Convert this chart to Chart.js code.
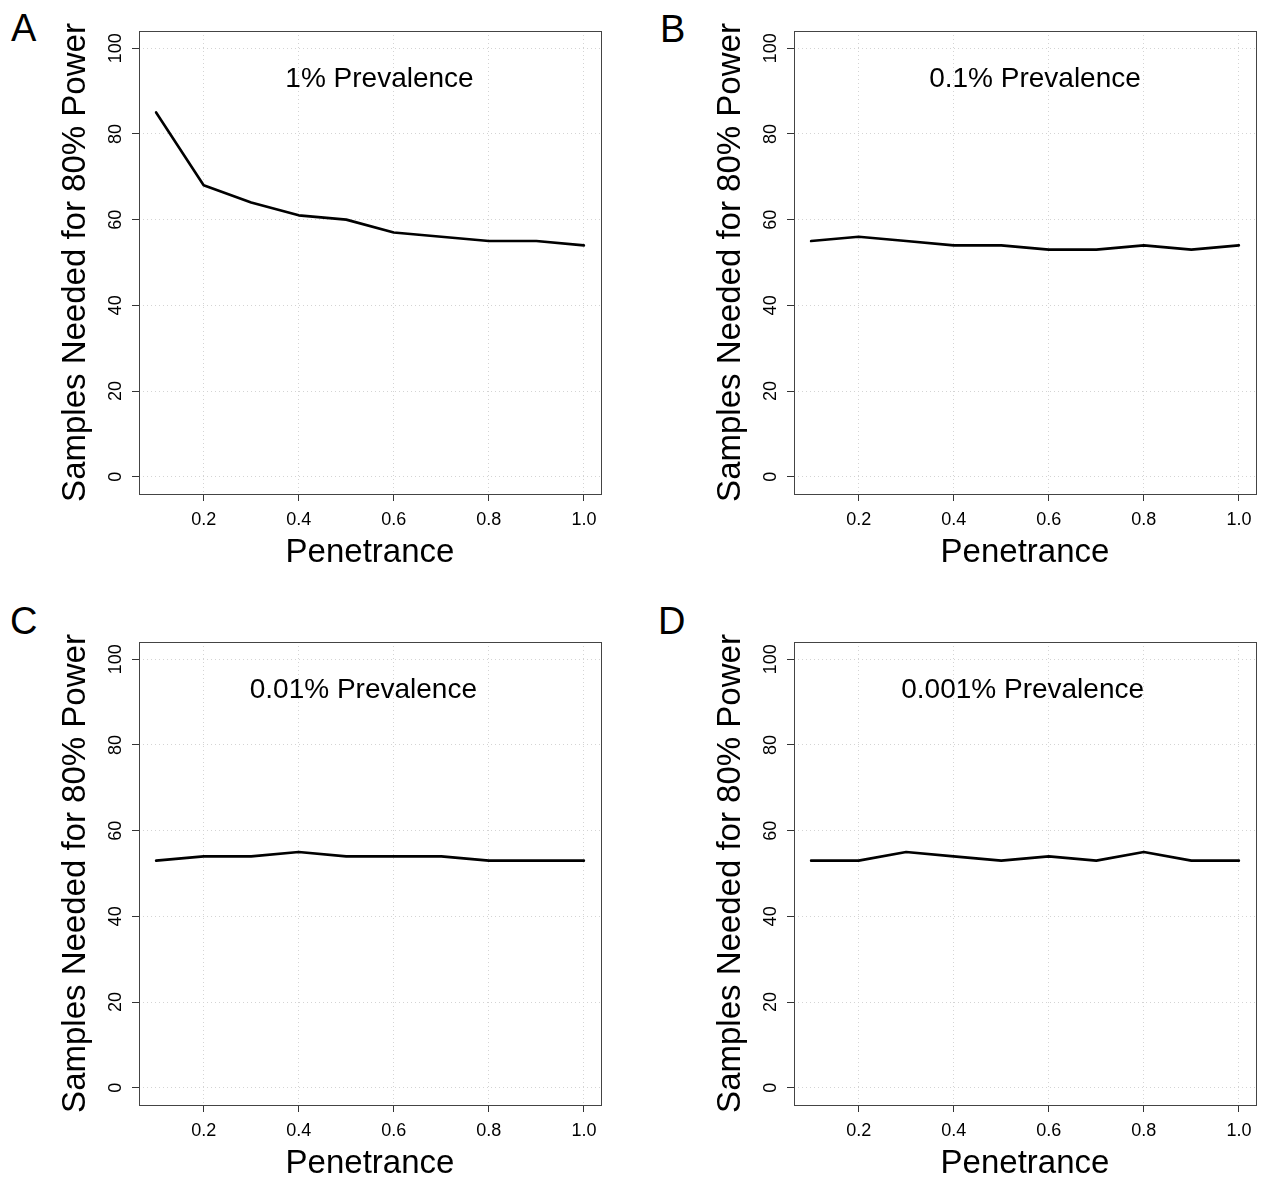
<!DOCTYPE html>
<html lang="en">
<head>
<meta charset="utf-8">
<title>Samples Needed for 80% Power by Penetrance</title>
<script src="https://cdn.jsdelivr.net/npm/chart.js@4.4.1/dist/chart.umd.min.js"></script>
<style>
  html, body { margin: 0; padding: 0; background: #fff; overflow: hidden; }
  body { position: relative; width: 1264px; height: 1179px; font-family: 'Liberation Sans', Arial, Helvetica, sans-serif; }
  canvas { position: absolute; }
  .panel-letter { position: absolute; font-size: 38px; line-height: 38px; color: #000; }
</style>
</head>
<body>

<div class="panel-letter" style="left:11px;top:9px">A</div>
<div class="panel-letter" style="left:660px;top:10px">B</div>
<div class="panel-letter" style="left:10px;top:602px">C</div>
<div class="panel-letter" style="left:658px;top:602px">D</div>

<canvas id="chart-a" width="609" height="568" style="left:0;top:0"></canvas>
<canvas id="chart-b" width="609" height="568" style="left:655px;top:0"></canvas>
<canvas id="chart-c" width="609" height="568" style="left:0;top:611px"></canvas>
<canvas id="chart-d" width="609" height="568" style="left:655px;top:611px"></canvas>

<script>
'use strict';

// ******* DATA *******
let penetrance = [0.1, 0.2, 0.3, 0.4, 0.5, 0.6, 0.7, 0.8, 0.9, 1.0];

let samplesPrev1 = [85, 68, 64, 61, 60, 57, 56, 55, 55, 54];
let samplesPrev01 = [55, 56, 55, 54, 54, 53, 53, 54, 53, 54];
let samplesPrev001 = [53, 54, 54, 55, 54, 54, 54, 53, 53, 53];
let samplesPrev0001 = [53, 53, 55, 54, 53, 54, 53, 55, 53, 53];

let prevalenceLabels = ['1% Prevalence', '0.1% Prevalence', '0.01% Prevalence', '0.001% Prevalence'];

let xTicks = [0.2, 0.4, 0.6, 0.8, 1.0];
let yTicks = [0, 20, 40, 60, 80, 100];

// ******* LAYOUT *******
const FONT = "'Liberation Sans', Arial, Helvetica, sans-serif";
const X_RANGE = [0.064, 1.036];
const Y_RANGE = [-4, 104];
// where the prevalence note sits in each panel (data units)
const NOTE_POS = [[0.57, 91], [0.571, 91], [0.536, 91], [0.545, 91]];

// ***** PLUGINS *****

// full box round the plot region
const plotFrame = {
  id: 'plotFrame',
  afterDraw(chart) {
    const { ctx, chartArea: a } = chart;
    ctx.save();
    ctx.strokeStyle = '#444';
    ctx.lineWidth = 1;
    ctx.strokeRect(a.left + 0.5, a.top + 0.5, a.right - a.left, a.bottom - a.top);
    ctx.restore();
  }
};

// the "x% Prevalence" text inside the plot
const prevalenceNote = {
  id: 'prevalenceNote',
  afterDatasetsDraw(chart, args, opts) {
    const { ctx, scales } = chart;
    ctx.save();
    ctx.font = '28px ' + FONT;
    ctx.fillStyle = '#000';
    ctx.textAlign = 'center';
    ctx.textBaseline = 'alphabetic';
    ctx.fillText(opts.text, scales.x.getPixelForValue(opts.x), scales.y.getPixelForValue(opts.y));
    ctx.restore();
  }
};

// ***** HELPERS *****

function gridOptions() {
  return {
    color: '#d4d4d4',
    lineWidth: 1,
    drawTicks: true,
    tickLength: 7,
    tickColor: '#333',
    tickWidth: 1
  };
}

function renderPanel(canvasId, values, noteText, notePos) {
  let points = [];
  for (let i = 0; i < penetrance.length; i++) {
    points.push({ x: penetrance[i], y: values[i] });
  }

  const config = {
    type: 'line',
    data: {
      datasets: [{
        data: points,
        borderColor: '#000',
        borderWidth: 2.6,
        borderCapStyle: 'round',
        borderJoinStyle: 'round',
        pointRadius: 0,
        tension: 0,
        fill: false
      }]
    },
    options: {
      responsive: false,
      animation: false,
      events: [],
      layout: { padding: { top: 31, right: 8, bottom: 0, left: 0 } },
      scales: {
        x: {
          type: 'linear',
          min: X_RANGE[0],
          max: X_RANGE[1],
          afterBuildTicks: scale => { scale.ticks = xTicks.map(v => ({ value: v })); },
          afterFit: scale => { scale.height = 74; },
          grid: gridOptions(),
          border: { display: false, dash: [1, 3] },
          ticks: {
            autoSkip: false,
            maxRotation: 0,
            padding: 8,
            color: '#000',
            font: { family: FONT, size: 18 },
            callback: v => Number(v).toFixed(1)
          },
          title: {
            display: true,
            text: 'Penetrance',
            color: '#000',
            font: { family: FONT, size: 33, lineHeight: 1 },
            padding: { top: 0, bottom: -1 }
          }
        },
        y: {
          type: 'linear',
          min: Y_RANGE[0],
          max: Y_RANGE[1],
          afterBuildTicks: scale => { scale.ticks = yTicks.map(v => ({ value: v })); },
          afterFit: scale => { scale.width = 139; },
          grid: gridOptions(),
          border: { display: false, dash: [1, 3] },
          ticks: {
            autoSkip: false,
            minRotation: 90,
            maxRotation: 90,
            crossAlign: 'center',
            align: 'end',
            padding: -8.5,
            color: '#000',
            font: { family: FONT, size: 18 },
            callback: v => String(v)
          },
          title: {
            display: true,
            text: 'Samples Needed for 80% Power',
            color: '#000',
            font: { family: FONT, size: 33, lineHeight: 1 },
            padding: { top: 59, bottom: 0 }
          }
        }
      },
      plugins: {
        legend: { display: false },
        tooltip: { enabled: false },
        prevalenceNote: { text: noteText, x: notePos[0], y: notePos[1] }
      }
    },
    plugins: [plotFrame, prevalenceNote]
  };

  return new Chart(document.getElementById(canvasId), config);
}

// **** EXECUTABLE CODE *****

renderPanel('chart-a', samplesPrev1, prevalenceLabels[0], NOTE_POS[0]);
renderPanel('chart-b', samplesPrev01, prevalenceLabels[1], NOTE_POS[1]);
renderPanel('chart-c', samplesPrev001, prevalenceLabels[2], NOTE_POS[2]);
renderPanel('chart-d', samplesPrev0001, prevalenceLabels[3], NOTE_POS[3]);
</script>
</body>
</html>
